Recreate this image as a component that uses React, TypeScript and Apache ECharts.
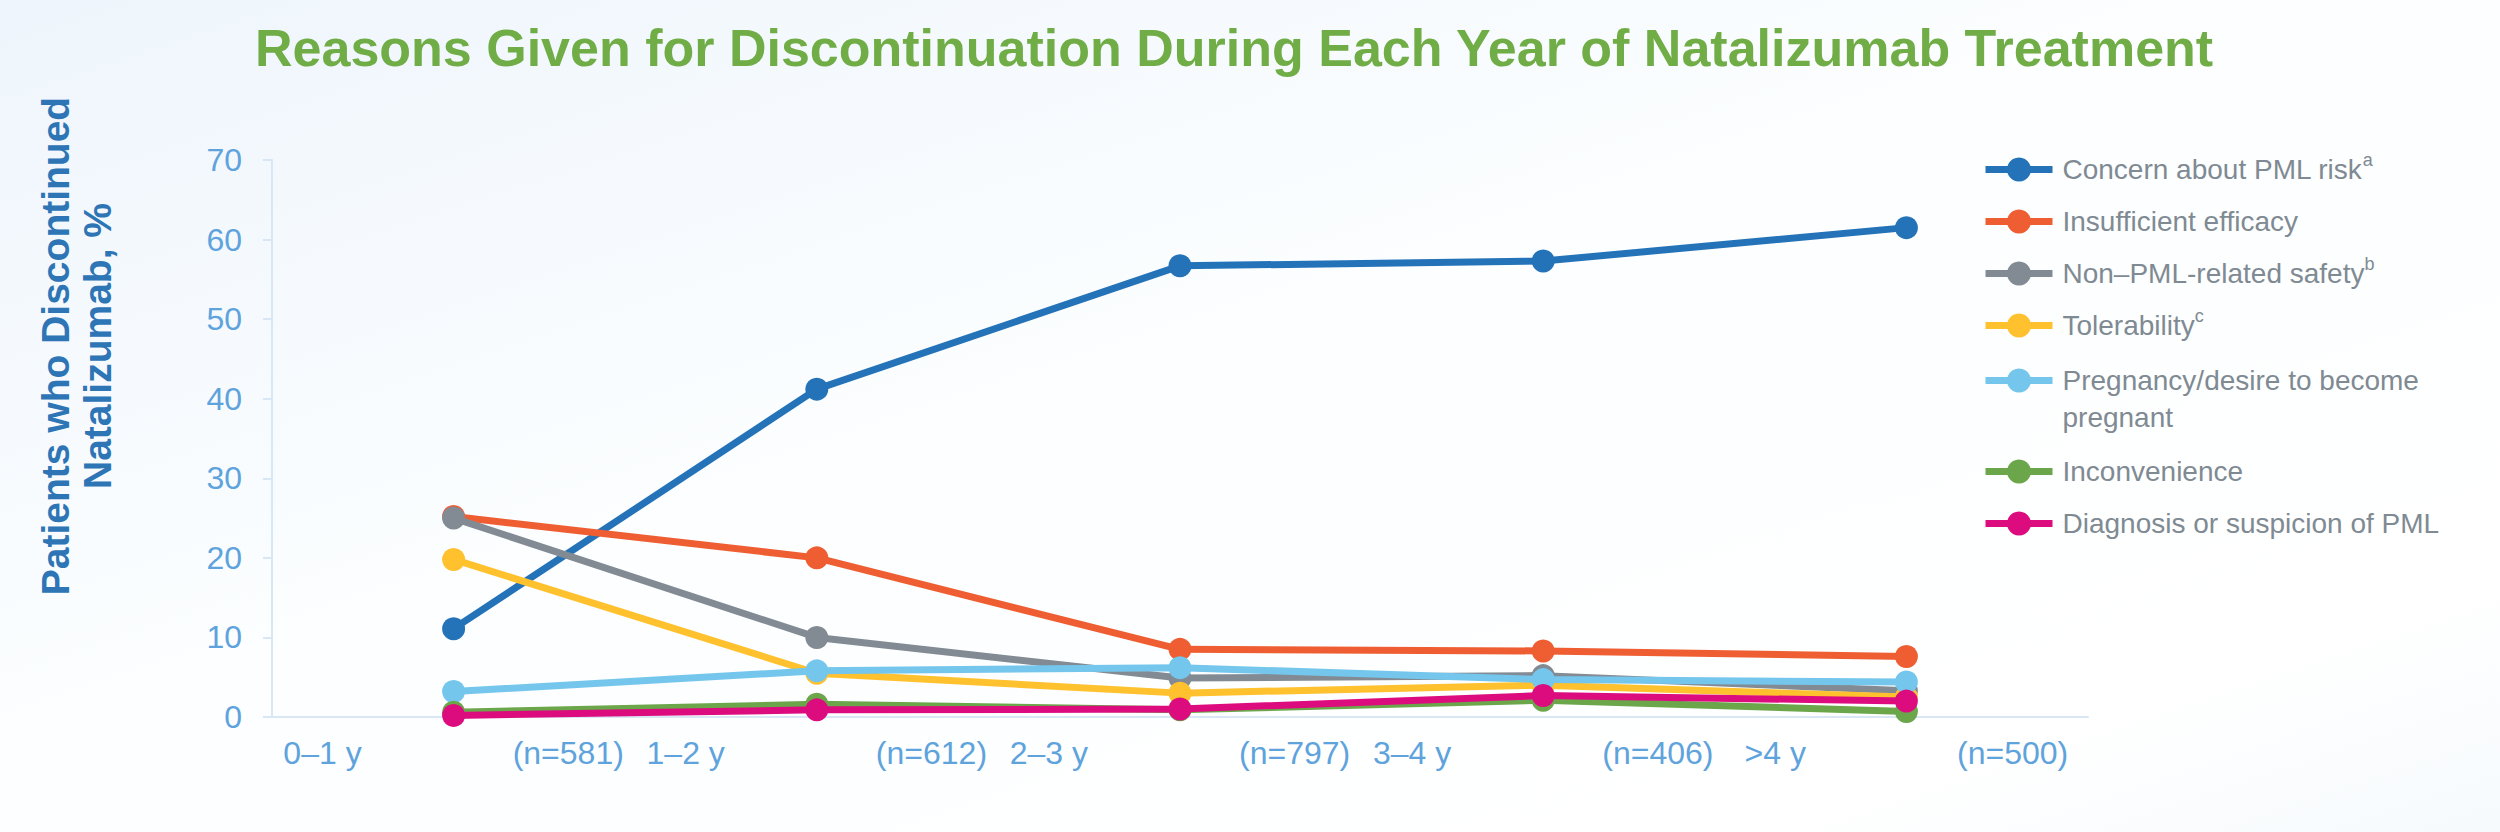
import React, { useEffect, useRef } from "react";
import * as echarts from "echarts";

const categories = ["0–1 y", "1–2 y", "2–3 y", "3–4 y", ">4 y"];
const sampleSizes = ["(n=581)", "(n=612)", "(n=797)", "(n=406)", "(n=500)"];

const seriesNames = [
  "Concern about PML risk",
  "Insufficient efficacy",
  "Non–PML-related safety",
  "Tolerability",
  "Pregnancy/desire to become pregnant",
  "Inconvenience",
  "Diagnosis or suspicion of PML",
];
const legendLabels = [
  "Concern about PML risk{sup|a}",
  "Insufficient efficacy",
  "Non–PML-related safety{sup|b}",
  "Tolerability{sup|c}",
  "Pregnancy/desire to become\npregnant",
  "Inconvenience",
  "Diagnosis or suspicion of PML",
];
const seriesColors = ["#2473B8", "#EE5E32", "#828B94", "#FFC12E", "#74C6EC", "#6BA64B", "#DC0C7E"];

const concernPml = [11.1, 41.2, 56.7, 57.3, 61.5];
const insufficientEfficacy = [25.2, 20.0, 8.5, 8.3, 7.6];
const nonPmlSafety = [25.0, 10.0, 4.9, 5.2, 3.3];
const tolerability = [19.8, 5.5, 3.0, 4.0, 2.5];
const pregnancy = [3.2, 5.8, 6.2, 4.7, 4.4];
const inconvenience = [0.6, 1.6, 0.9, 2.1, 0.7];
const diagnosisPml = [0.2, 0.9, 1.0, 2.7, 2.0];

const seriesValues = [concernPml, insufficientEfficacy, nonPmlSafety, tolerability, pregnancy, inconvenience, diagnosisPml];

const yMin = 0;
const yMax = 70;
const yInterval = 10;

const FONT = "'Liberation Sans', Arial, Helvetica, sans-serif";
const AXIS_LABEL_COLOR = "#5fa3dc";
const AXIS_LINE_COLOR = "#d9e7f5";
const LEGEND_TEXT_COLOR = "#7f8a93";

function legendBase(top: number) {
  return {
    orient: "vertical",
    left: 1982,
    top,
    padding: 0,
    itemWidth: 67,
    itemHeight: 30,
    itemGap: 15,
    selectedMode: false,
    lineStyle: { width: 7 },
    textStyle: {
      color: LEGEND_TEXT_COLOR,
      fontSize: 28,
      lineHeight: 37,
      fontFamily: FONT,
      padding: [0, 0, 0, 5],
      rich: {
        sup: { fontSize: 18, lineHeight: 22, verticalAlign: "top", color: LEGEND_TEXT_COLOR, fontFamily: FONT },
      },
    },
    formatter: (name: string) => legendLabels[seriesNames.indexOf(name)],
  };
}

export default function App() {
  const ref = useRef<HTMLDivElement>(null);

  useEffect(() => {
    if (!ref.current) return;
    const chart = echarts.init(ref.current, null, { renderer: "svg" });

    const option = {
      animation: false,
      backgroundColor: "#ffffff",
      title: {
        text: "Reasons Given for Discontinuation During Each Year of Natalizumab Treatment",
        left: 255,
        top: 22,
        padding: 0,
        textStyle: { color: "#70AD47", fontSize: 52, fontWeight: "bold", fontFamily: FONT },
      },
      graphic: [
        {
          type: "rect",
          z: -10,
          silent: true,
          shape: { x: 0, y: 0, width: 2500, height: 832 },
          style: {
            fill: new echarts.graphic.LinearGradient(0, 0, 1, 1, [
              { offset: 0, color: "#eef5fc" },
              { offset: 0.45, color: "#fcfeff" },
              { offset: 0.85, color: "#ffffff" },
              { offset: 1, color: "#f6fafd" },
            ]),
          },
        },
        {
          type: "text",
          x: 76,
          y: 346,
          rotation: Math.PI / 2,
          silent: true,
          style: {
            text: "Patients who Discontinued\nNatalizumab, %",
            fill: "#2E75B6",
            font: `bold 39px ${FONT}`,
            lineHeight: 42,
            align: "center",
            verticalAlign: "middle",
          },
        },
      ],
      legend: [
        { ...legendBase(151), data: seriesNames.slice(0, 4) },
        {
          ...legendBase(325),
          data: [{ name: seriesNames[4], textStyle: { padding: [37, 0, 0, 5] } }],
        },
        { ...legendBase(453), data: seriesNames.slice(5) },
      ],
      grid: { left: 272, right: 412, top: 160, bottom: 115, containLabel: false },
      xAxis: {
        type: "category",
        data: categories,
        boundaryGap: true,
        axisLine: { show: true, lineStyle: { color: AXIS_LINE_COLOR, width: 2 } },
        axisTick: { show: false },
        splitLine: { show: false },
        axisLabel: {
          interval: 0,
          margin: 20,
          color: AXIS_LABEL_COLOR,
          fontSize: 32,
          fontFamily: FONT,
          formatter: (v: string, i: number) => `{a|${v}}{g| }{a|${sampleSizes[i]}}`,
          rich: {
            a: { color: AXIS_LABEL_COLOR, fontSize: 32, fontFamily: FONT },
            g: { width: 151, fontSize: 32 },
          },
        },
      },
      yAxis: {
        type: "value",
        min: yMin,
        max: yMax,
        interval: yInterval,
        axisLine: { show: true, lineStyle: { color: AXIS_LINE_COLOR, width: 2 } },
        axisTick: { show: true, length: 9, lineStyle: { color: AXIS_LINE_COLOR, width: 2 } },
        splitLine: { show: false },
        axisLabel: { color: AXIS_LABEL_COLOR, fontSize: 32, margin: 30, fontFamily: FONT },
      },
      series: seriesNames.map((name, i) => ({
        name,
        type: "line",
        data: seriesValues[i],
        symbol: "circle",
        symbolSize: 23,
        showSymbol: true,
        lineStyle: { width: 7, color: seriesColors[i] },
        itemStyle: { color: seriesColors[i] },
        emphasis: { disabled: true },
        z: 2 + i,
      })),
    };

    chart.setOption(option as any);
    return () => chart.dispose();
  }, []);

  return (
    <div
      ref={ref}
      style={{ position: "fixed", left: 0, top: 0, width: 2500, height: 832 }}
    />
  );
}
